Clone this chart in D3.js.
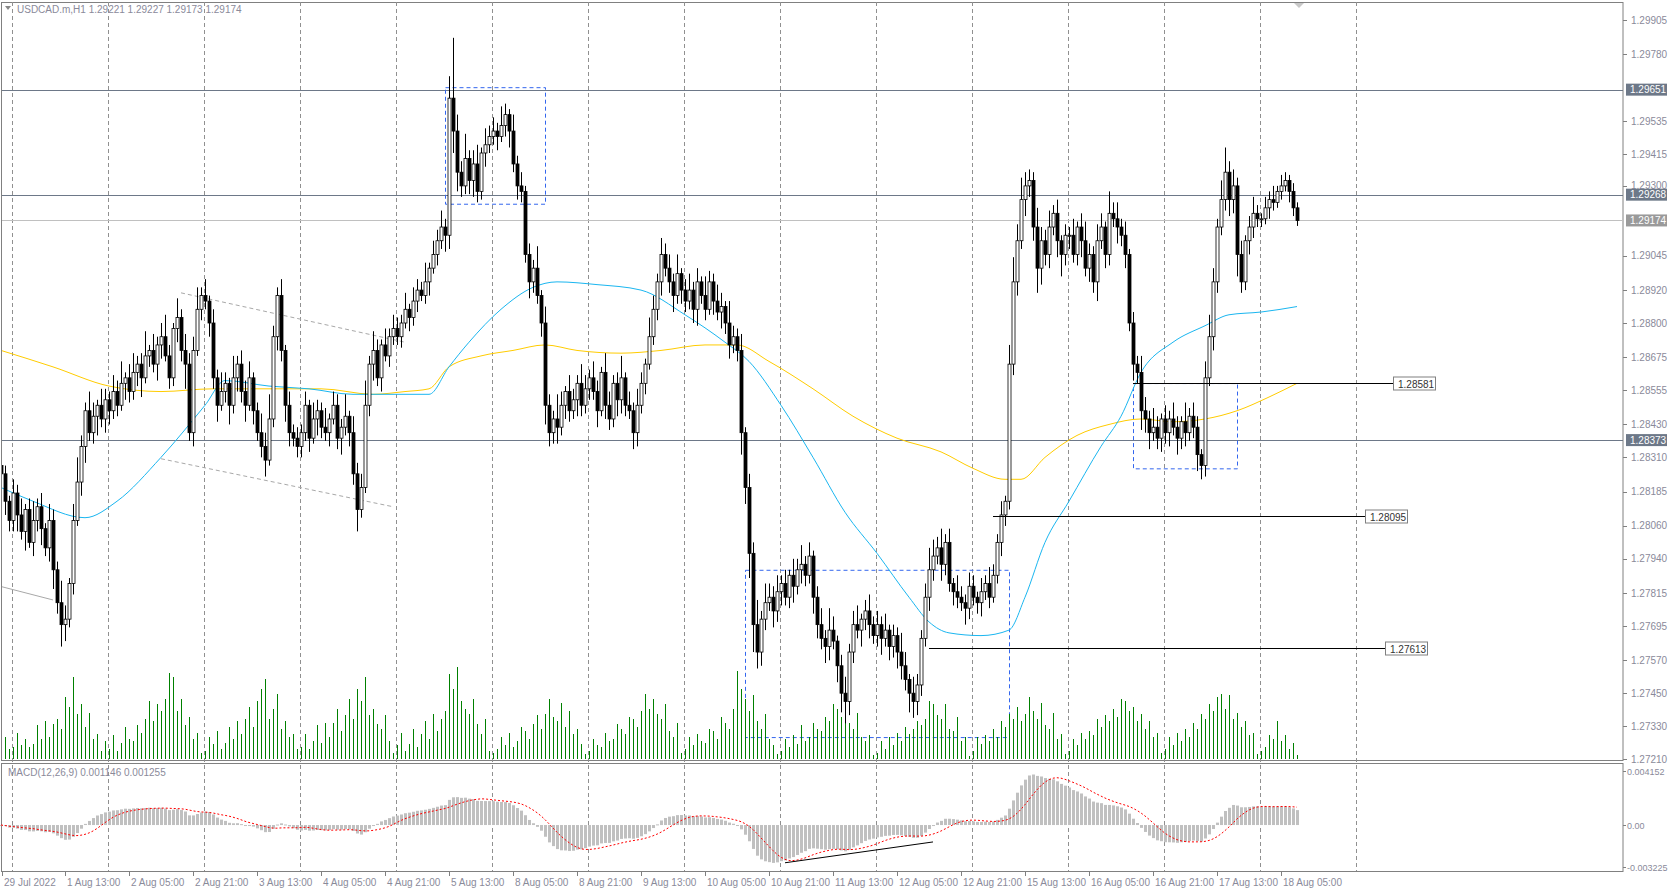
<!DOCTYPE html>
<html><head><meta charset="utf-8">
<script src="https://cdn.jsdelivr.net/npm/d3@7"></script>
<style>body{margin:0;background:#fff}svg{display:block}text{font-family:"Liberation Sans",Arial,sans-serif;font-size:10px}</style>
</head><body><svg id="c" width="1669" height="891"></svg>
<script>
// closes, in pips above 1.2700
const closePips = [125,115,108,
118,110,104,112,100,108,113,105,98,108,90,78,70,72,85,108,122,135,148,140,146,150,145,152,
148,155,150,158,160,155,162,165,160,168,170,165,172,175,168,160,178,182,170,165,140,170,185,190,
188,180,160,150,155,158,150,160,165,155,150,160,148,140,135,130,145,175,190,170,150,140,138,135,
140,150,138,145,148,142,140,145,150,138,142,146,140,125,112,120,150,165,170,160,172,168,175,178,
175,180,185,182,188,192,190,195,200,205,210,215,212,262,250,235,230,240,232,238,228,242,245,248,
250,248,252,256,250,238,230,228,205,195,200,190,180,150,140,145,142,150,155,148,152,158,150,156,
160,155,148,162,150,145,158,152,160,150,148,140,150,158,165,175,185,195,205,200,195,190,198,192,
188,192,185,195,190,185,195,188,184,186,180,172,175,170,140,120,96,70,60,72,78,80,75,82,
85,80,88,84,90,92,88,95,80,70,65,62,68,64,55,45,42,60,70,68,72,75,70,66,
70,65,68,62,66,60,55,50,45,42,48,65,80,90,95,98,92,100,85,82,80,78,76,84,
80,78,82,85,80,88,100,110,115,165,195,210,225,230,232,215,200,210,205,215,220,210,205,212,
212,205,215,210,200,205,195,210,215,205,220,218,215,212,205,180,165,162,148,145,140,142,138,145,
140,145,142,138,144,140,146,142,132,128,160,175,195,215,225,235,225,230,205,195,210,215,220,218,
218,222,225,224,228,230,232,228,222,217.4];
const upWick = ("4 3 2 "+
"5 3 6 2 4 7 3 5 2 6 4 3 8 5 2 6 9 4 3 7 5 2 6 4 "+
"3 6 4 8 2 5 7 3 4 9 2 6 3 5 8 4 2 7 3 6 4 5 8 3 "+
"6 2 5 3 7 4 2 8 3 5 4 6 2 3 7 5 9 4 3 6 2 5 3 4 "+
"3 5 2 6 4 3 7 2 5 4 3 8 2 6 4 5 9 3 7 4 2 6 3 5 "+
"4 3 6 2 5 4 3 7 2 5 4 6 3 8 22 6 4 9 3 5 7 2 6 4 "+
"5 3 7 4 2 6 3 5 2 4 3 8 2 6 4 3 9 5 2 6 4 3 7 5 "+
"3 6 4 2 7 5 3 4 8 2 5 3 6 4 2 7 5 3 6 4 5 3 7 2 "+
"4 6 3 5 2 7 4 3 6 5 2 8 4 3 6 2 5 4 9 3 7 5 4 6 "+
"3 5 2 6 4 7 3 5 2 4 6 3 8 5 2 4 6 3 5 7 2 4 6 3 "+
"5 3 6 2 4 3 7 5 2 6 4 3 5 8 6 4 7 3 5 2 6 4 3 5 "+
"4 2 5 3 6 4 3 5 2 7 9 6 8 5 4 3 7 5 4 6 3 5 2 4 "+
"3 6 2 5 7 4 3 6 5 2 8 4 6 3 5 2 4 3 6 5 3 7 4 2 "+
"5 3 6 4 2 7 3 5 4 2 6 8 5 3 7 9 4 6 3 5 2 4 6 3 "+
"2 4 3 5 2 4 3 2 3 2").split(" ").map(Number);
const downWick = ("3 5 4 "+
"4 6 3 7 2 5 4 6 3 5 7 4 8 6 3 4 2 5 6 3 4 7 3 5 "+
"5 3 4 2 6 4 3 5 7 2 4 3 6 5 2 4 3 5 4 9 3 5 2 4 "+
"3 5 4 6 2 4 7 3 5 4 6 2 5 3 4 6 2 3 5 4 6 5 3 4 "+
"4 3 5 2 6 4 3 5 2 4 6 3 5 4 8 3 2 4 6 3 5 2 4 3 "+
"3 4 2 5 3 4 2 3 5 2 4 3 6 5 8 7 4 3 5 6 4 3 5 3 "+
"3 5 2 4 6 3 5 4 3 6 4 3 5 7 5 4 6 3 5 4 3 6 4 3 "+
"4 3 6 2 5 4 3 6 5 4 3 6 5 3 4 2 3 4 5 3 4 6 3 5 "+
"4 3 5 6 3 4 2 5 3 6 4 5 3 4 8 6 9 10 6 5 4 3 6 4 "+
"5 3 4 6 3 5 4 3 6 5 4 6 5 3 6 7 8 5 4 3 6 4 5 3 "+
"4 6 3 5 4 6 5 4 7 6 5 4 3 5 4 3 6 4 3 5 4 3 6 4 "+
"3 4 5 3 4 2 3 5 4 3 4 5 3 6 4 5 9 6 4 5 3 6 8 4 "+
"5 3 4 6 3 5 4 7 3 5 4 3 6 4 5 3 6 4 7 5 6 3 4 5 "+
"4 5 3 6 4 5 3 4 6 5 4 3 5 4 3 4 6 5 8 4 3 5 4 3 "+
"3 2 4 3 2 3 2 4 3 2").split(" ").map(Number);
const volumes = [25,22,10,
12,26,14,20,12,15,34,20,38,22,35,40,30,62,52,82,45,55,32,46,20,25,8,18,
10,24,8,16,32,20,18,34,26,40,58,38,55,48,60,86,82,48,60,34,42,20,26,6,
8,22,15,28,10,16,32,20,38,25,40,52,32,58,70,80,40,50,65,30,38,22,25,10,
12,25,10,18,34,16,36,22,36,50,28,44,60,40,70,58,82,44,50,35,30,44,18,6,
14,26,8,15,30,12,25,38,20,45,28,40,48,85,70,92,58,50,45,60,35,25,40,8,
6,10,22,14,26,12,18,32,28,20,35,44,30,45,60,42,38,56,32,48,25,30,15,5,
8,20,14,12,26,18,20,35,30,25,42,40,32,48,65,50,60,45,40,55,28,22,36,6,
10,22,14,25,18,16,30,28,20,42,36,30,50,88,70,60,48,64,38,30,45,20,14,5,
8,20,12,24,15,34,18,22,36,30,28,42,38,55,50,42,60,36,30,46,22,18,24,4,
6,18,10,22,14,26,18,32,25,30,38,34,40,58,55,44,40,55,30,28,42,18,22,3,
8,22,15,24,18,30,22,38,32,45,40,52,38,45,62,48,40,56,34,30,46,20,25,5,
8,20,14,26,20,28,24,40,32,44,38,50,42,60,58,48,52,38,45,30,38,22,26,6,
10,22,14,26,18,30,22,36,30,45,40,55,48,62,65,50,64,40,46,32,38,24,26,5,
8,12,24,20,38,18,24,10,16,4];
// moving averages (bar index, pips)
const maBlueBars = [0,8,21,29,40,51,56,67,77,88,99,107,112,117,125,133,139,149,160,171,181,187,195,203,211,219,227,232,237,245,252,256,261,267,275,280,285,293,301,307,315,324];
const maBluePips = [120,115,109,115,131,150,159,157,156,154,154,154,164,173,185,193,195,194,192,183,173,166,150,131,111,96,80,71,67,66,68,80,100,115,135,146,162,173,179,183,184,186];
const maYellowBars = [0,13,27,40,53,67,80,93,101,107,112,120,128,136,144,155,165,176,184,192,203,213,224,235,243,251,255,261,269,277,285,293,301,309,317,324];
const maYellowPips = [170,164,157,155,156,156,156,154,155,156,164,168,170,172,170,169,170,172,172,166,156,146,138,133,127,123,123,131,139,143,145,144,145,148,153,158];
const timeLabels = ["29 Jul 2022","1 Aug 13:00","2 Aug 05:00","2 Aug 21:00","3 Aug 13:00","4 Aug 05:00","4 Aug 21:00","5 Aug 13:00","8 Aug 05:00","8 Aug 21:00","9 Aug 13:00","10 Aug 05:00","10 Aug 21:00","11 Aug 13:00","12 Aug 05:00","12 Aug 21:00","15 Aug 13:00","16 Aug 05:00","16 Aug 21:00","17 Aug 13:00","18 Aug 05:00"];
const priceTicks = [1.29905,1.29780,1.29535,1.29415,1.29300,1.29045,1.28920,1.28800,1.28675,1.28555,1.28430,1.28310,1.28185,1.28060,1.27940,1.27815,1.27695,1.27570,1.27450,1.27330,1.27210];
const hLines = [1.29651,1.29268,1.28373];
const lastPrice = 1.29174;
const segLines = [{p:1.28581,b0:283,b1:348},{p:1.28095,b0:248,b1:341},{p:1.27613,b0:232,b1:346}];

const svg = d3.select("#c");
const AX=1623, T=2, MB=760, MT=763, MBot=871;
const px = p => 1.27 + p/10000;
const closes = closePips.map(px);
const bars = closes.map((c,i)=>{const o=i?closes[i-1]:px(128);return {i,o,c,h:Math.max(o,c)+upWick[i]/10000,l:Math.min(o,c)-downWick[i]/10000,v:volumes[i]};});
const x = d3.scaleLinear().domain([0,1]).range([1,5]);
const y = d3.scaleLinear().domain([1.27210,1.29905]).range([759,20]);
const yv = d3.scaleLinear().domain([0,100]).range([759,659]);

function ema(a,n){const k=2/(n+1);const r=[];a.forEach((v,i)=>r.push(i?v*k+r[i-1]*(1-k):v));return r;}
const e12=ema(closes,12), e26=ema(closes,26);
const macd=closes.map((_,i)=>e12[i]-e26[i]);
const sig=macd.map((_,i)=>d3.mean(macd.slice(Math.max(0,i-8),i+1)));
const ym = d3.scaleLinear().domain([-0.003225,0.004152]).range([867,771]);

svg.append("rect").attr("x",1.5).attr("y",T+0.5).attr("width",AX-1.5).attr("height",MB-T).attr("fill","none").attr("stroke","#808080");
svg.append("rect").attr("x",1.5).attr("y",MT+0.5).attr("width",AX-1.5).attr("height",MBot-MT).attr("fill","none").attr("stroke","#808080");
svg.append("defs").append("clipPath").attr("id","cp").append("rect").attr("x",2).attr("y",T+1).attr("width",AX-2).attr("height",MB-T-1);
const grid = d3.range(15).map(k=>x(3+24*k)-1);
svg.append("g").selectAll("line").data(grid).join("line").attr("x1",d=>d+0.5).attr("x2",d=>d+0.5).attr("y1",T).attr("y2",MBot).attr("stroke","#909090").attr("stroke-dasharray","4,3");

const main = svg.append("g").attr("clip-path","url(#cp)");
hLines.forEach(p=>main.append("line").attr("x1",0).attr("x2",AX).attr("y1",Math.round(y(p))+0.5).attr("y2",Math.round(y(p))+0.5).attr("stroke","#6d7888"));
main.append("line").attr("x1",0).attr("x2",AX).attr("y1",Math.round(y(lastPrice))+0.5).attr("y2",Math.round(y(lastPrice))+0.5).attr("stroke","#c0c0c0");
const g2 = main.append("g").attr("stroke","#a8a8a8").attr("fill","none");
[[45,1.28910,101,1.28730],[40,1.28305,98,1.28130]].forEach(d=>g2.append("line").attr("x1",x(d[0])).attr("y1",y(d[1])).attr("x2",x(d[2])).attr("y2",y(d[3])).attr("stroke-dasharray","4,3"));
g2.append("line").attr("x1",0).attr("y1",y(1.27840)).attr("x2",x(13)).attr("y2",y(1.27790));
const rects=[[111,1.29660,136,1.29235],[186,1.27900,252,1.27290],[283,1.28581,309,1.28270]];
main.append("g").selectAll("rect").data(rects).join("rect").attr("x",d=>x(d[0])+0.5).attr("y",d=>y(d[1])+0.5).attr("width",d=>x(d[2])-x(d[0])).attr("height",d=>y(d[3])-y(d[1])).attr("fill","none").attr("stroke","#3366ee").attr("stroke-dasharray","4,3");
main.append("g").selectAll("line").data(bars).join("line").attr("x1",d=>x(d.i)+0.5).attr("x2",d=>x(d.i)+0.5).attr("y1",759).attr("y2",d=>yv(d.v)).attr("stroke","#008000");
const ln = d3.line().curve(d3.curveMonotoneX).x(d=>x(d[0])).y(d=>y(px(d[1])));
main.append("path").attr("d",ln(maYellowBars.map((b,i)=>[b,maYellowPips[i]]))).attr("fill","none").attr("stroke","#ffcc00");
main.append("path").attr("d",ln(maBlueBars.map((b,i)=>[b,maBluePips[i]]))).attr("fill","none").attr("stroke","#1ab6f0");
const cg = main.append("g").selectAll("g").data(bars).join("g");
cg.append("line").attr("x1",d=>x(d.i)+0.5).attr("x2",d=>x(d.i)+0.5).attr("y1",d=>y(d.h)).attr("y2",d=>y(d.l)).attr("stroke","#000");
cg.append("rect").attr("x",d=>x(d.i)-1).attr("y",d=>y(Math.max(d.o,d.c))).attr("width",3).attr("height",d=>Math.max(1,y(Math.min(d.o,d.c))-y(Math.max(d.o,d.c)))).attr("fill",d=>d.c>=d.o?"#fff":"#000").attr("stroke","#000").attr("stroke-width",0.8);
segLines.forEach(s=>{const yy=Math.round(y(s.p))+0.5;
 main.append("line").attr("x1",x(s.b0)).attr("x2",x(s.b1)).attr("y1",yy).attr("y2",yy).attr("stroke","#000");
 main.append("rect").attr("x",x(s.b1)+0.5).attr("y",yy-6.5).attr("width",42).attr("height",13).attr("fill","#fff").attr("stroke","#808080");
 main.append("text").attr("x",x(s.b1)+5).attr("y",yy+4).attr("fill","#333").text(s.p.toFixed(5));});

svg.append("g").selectAll("g").data(priceTicks).join(e=>{const g=e.append("g");
 g.append("line").attr("x1",AX).attr("x2",AX+4).attr("y1",d=>Math.round(y(d))+0.5).attr("y2",d=>Math.round(y(d))+0.5).attr("stroke","#808080");
 g.append("text").attr("x",AX+8).attr("y",d=>y(d)+3.5).attr("fill","#8a8a9a").text(d=>d.toFixed(5));return g;});
[[1.29651,"#6d7888"],[1.29268,"#6d7888"],[1.28373,"#6d7888"],[lastPrice,"#9a9a9a"]].forEach(([p,c])=>{
 svg.append("rect").attr("x",AX+3).attr("y",y(p)-6).attr("width",41).attr("height",12).attr("fill",c);
 svg.append("text").attr("x",AX+7).attr("y",y(p)+3.5).attr("fill","#fff").text(p.toFixed(5));});

svg.append("g").selectAll("rect").data(macd).join("rect").attr("x",(d,i)=>x(i)-1).attr("width",3).attr("y",d=>Math.min(ym(d),ym(0))).attr("height",d=>Math.max(1,Math.abs(ym(d)-ym(0)))).attr("fill","#c0c0c0");
svg.append("path").attr("d",d3.line().x((d,i)=>x(i)).y(d=>ym(d))(sig)).attr("fill","none").attr("stroke","#ff0000").attr("stroke-dasharray","2,2");
svg.append("line").attr("x1",x(196)).attr("y1",ym(-0.00290)).attr("x2",x(233)).attr("y2",ym(-0.00130)).attr("stroke","#000");
[[0.004152,"0.004152"],[0,"0.00"],[-0.003225,"-0.003225"]].forEach(([v,t])=>{
 svg.append("text").attr("x",AX+4).attr("y",ym(v)+3.5).attr("fill","#8a8a9a").style("font-size","9px").text(t);
 svg.append("line").attr("x1",AX).attr("x2",AX+3).attr("y1",Math.round(ym(v))+0.5).attr("y2",Math.round(ym(v))+0.5).attr("stroke","#808080");});
svg.append("text").attr("x",8).attr("y",776).attr("fill","#8a8a9a").text("MACD(12,26,9) 0.001146 0.001255");

timeLabels.forEach((t,k)=>{const xx=k?x(16*k):2;
 svg.append("line").attr("x1",xx+0.5).attr("x2",xx+0.5).attr("y1",MBot+1).attr("y2",MBot+5).attr("stroke","#808080");
 svg.append("text").attr("x",xx+2).attr("y",886).attr("fill","#8a8a9a").text(t);});

svg.append("path").attr("d","M5,6 L11,6 L8,10 Z").attr("fill","#888");
svg.append("text").attr("x",17).attr("y",13).attr("fill","#8a8a9a").text("USDCAD.m,H1  1.29221 1.29227 1.29173 1.29174");
svg.append("path").attr("d","M1294,3 L1304,3 L1299,8 Z").attr("fill","#c8c8c8");
</script></body></html>
